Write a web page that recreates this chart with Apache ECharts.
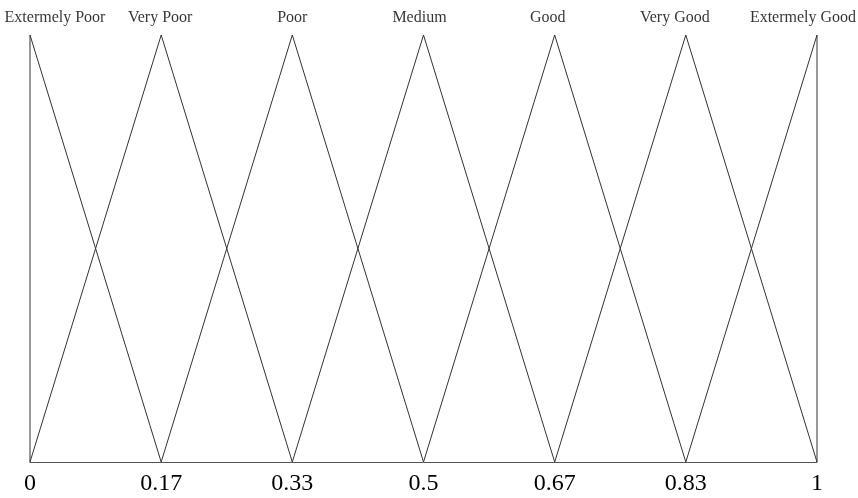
<!DOCTYPE html>
<html>
<head>
<meta charset="utf-8">
<script src="https://cdn.jsdelivr.net/npm/echarts@6/dist/echarts.min.js"></script>
<style>html,body{margin:0;padding:0;background:#fff}#c{width:858px;height:498px}</style>
</head>
<body>
<div id="c"></div>
<script>
var terms = ['Extermely Poor','Very Poor','Poor','Medium','Good','Very Good','Extermely Good'];
var peaks = [0, 0.1667, 0.3333, 0.5, 0.6667, 0.8333, 1];
var lefts = [0, 0, 0.1667, 0.3333, 0.5, 0.6667, 0.8333];
var rights = [0.1667, 0.3333, 0.5, 0.6667, 0.8333, 1, 1];
var tickLabels = ['0','0.17','0.33','0.5','0.67','0.83','1'];
var labelOffsets = [25, -1, 0, -4, -7, -11, -14];

var chart = echarts.init(document.getElementById('c'));
var series = terms.map(function(name, i){
  return {
    type: 'line',
    name: name,
    symbol: 'none',
    animation: false,
    lineStyle: {color: '#333', width: 1},
    data: [[lefts[i], 0], [peaks[i], 1], [rights[i], 0]]
  };
});
series.push({
  type: 'scatter',
  name: 'labels',
  symbolSize: 0.1,
  clip: false,
  animation: false,
  silent: true,
  itemStyle: {color: '#333'},
  data: terms.map(function(name, i){
    return {value: [peaks[i], 1], name: name,
      label: {show: true, formatter: name, position: 'top', distance: 9,
        offset: [labelOffsets[i], 0], color: '#000', fontFamily: 'Liberation Serif', fontSize: 16}};
  })
});
chart.setOption({
  animation: false,
  grid: {left: 30, right: 41, top: 35, bottom: 36},
  xAxis: {
    type: 'value', min: 0, max: 1, interval: 1/6,
    axisLine: {show: true, lineStyle: {color: '#555', width: 1}},
    axisTick: {show: false},
    splitLine: {show: false},
    axisLabel: {
      color: '#000', fontFamily: 'Liberation Serif', fontSize: 24, margin: 10,
      formatter: function(v){ return tickLabels[Math.round(v*6)]; }
    }
  },
  yAxis: {
    type: 'value', min: 0, max: 1,
    axisLine: {show: false}, axisTick: {show: false}, splitLine: {show: false}, axisLabel: {show: false}
  },
  series: series
});
</script>
</body>
</html>
